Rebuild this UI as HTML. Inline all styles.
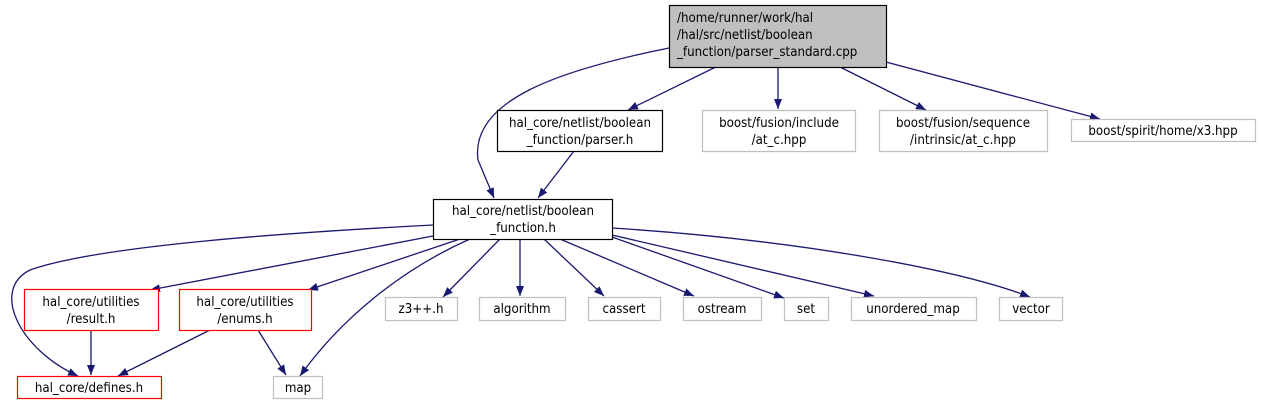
<!DOCTYPE html>
<html><head><meta charset="utf-8"><style>html,body{margin:0;padding:0;background:#fff}svg{display:block}text{font-family:"DejaVu Sans Condensed","DejaVu Sans","Liberation Sans",sans-serif;font-size:13.2px;fill:#000}</style></head>
<body>
<svg width="1261" height="409" viewBox="0 0 1261 409" xmlns="http://www.w3.org/2000/svg">
<defs><marker id="a" viewBox="0 0 10 10" refX="10" refY="5" markerWidth="10" markerHeight="10" markerUnits="userSpaceOnUse" orient="auto"><path d="M0,1 L10,5 L0,9 Z" fill="#191970"/></marker></defs>
<g fill="none" stroke="#191970" stroke-width="1.3" marker-end="url(#a)">
<path d="M669,48 C560,70 470,100 478,160 L494,198"/>
<path d="M726,62 L628,110"/>
<path d="M778,62 L778,109"/>
<path d="M830,62 L926,110"/>
<path d="M886,62 L1100,119"/>
<path d="M574,151 L538,198"/>
<path d="M433,225 C300,232 100,245 30,270 C-10,290 20,350 78,376"/>
<path d="M433,236 L150,290"/>
<path d="M460,239 L308,290"/>
<path d="M470,239 C400,270 340,320 300,376"/>
<path d="M500,239 L443,297"/>
<path d="M520,239 L520,296"/>
<path d="M544,239 L604,296"/>
<path d="M560,239 L694,296"/>
<path d="M612,237 L784,298"/>
<path d="M612,235 L874,296"/>
<path d="M612,228 C800,240 960,270 1030,297"/>
<path d="M91,330 L91,375"/>
<path d="M210,330 L118,376"/>
<path d="M258,330 L286,375"/>
</g>
<g stroke-width="1.2">
<rect x="669.5" y="5.5" width="217" height="62" fill="#bfbfbf" stroke="#000"/>
<rect x="497.5" y="110.5" width="165" height="41" fill="#fff" stroke="#000"/>
<rect x="702.5" y="110.5" width="153" height="41" fill="#fff" stroke="#bfbfbf"/>
<rect x="879.5" y="110.5" width="168" height="41" fill="#fff" stroke="#bfbfbf"/>
<rect x="1071.5" y="119.5" width="184" height="22" fill="#fff" stroke="#bfbfbf"/>
<rect x="433.5" y="199.5" width="179" height="40" fill="#fff" stroke="#000"/>
<rect x="24.5" y="289.5" width="134" height="41" fill="#fff" stroke="#ff0000"/>
<rect x="179.5" y="289.5" width="132" height="41" fill="#fff" stroke="#ff0000"/>
<rect x="385.5" y="297.5" width="72" height="23" fill="#fff" stroke="#bfbfbf"/>
<rect x="479.5" y="297.5" width="86" height="23" fill="#fff" stroke="#bfbfbf"/>
<rect x="588.5" y="297.5" width="72" height="23" fill="#fff" stroke="#bfbfbf"/>
<rect x="683.5" y="297.5" width="78" height="23" fill="#fff" stroke="#bfbfbf"/>
<rect x="784.5" y="297.5" width="44" height="23" fill="#fff" stroke="#bfbfbf"/>
<rect x="851.5" y="297.5" width="125" height="23" fill="#fff" stroke="#bfbfbf"/>
<rect x="999.5" y="297.5" width="63" height="23" fill="#fff" stroke="#bfbfbf"/>
<rect x="17.5" y="376.5" width="144" height="22" fill="#fff" stroke="#ff0000"/>
<rect x="273.5" y="376.5" width="49" height="22" fill="#fff" stroke="#bfbfbf"/>
</g>
<g>
<text x="677" y="22">/home/runner/work/hal</text>
<text x="677" y="39">/hal/src/netlist/boolean</text>
<text x="677" y="56">_function/parser_standard.cpp</text>
<g text-anchor="middle">
<text x="580" y="127">hal_core/netlist/boolean</text>
<text x="580" y="144">_function/parser.h</text>
<text x="779" y="127">boost/fusion/include</text>
<text x="779" y="144">/at_c.hpp</text>
<text x="963" y="127">boost/fusion/sequence</text>
<text x="963" y="144">/intrinsic/at_c.hpp</text>
<text x="1163" y="135">boost/spirit/home/x3.hpp</text>
<text x="523" y="215">hal_core/netlist/boolean</text>
<text x="523" y="232">_function.h</text>
<text x="91" y="306">hal_core/utilities</text>
<text x="91" y="323">/result.h</text>
<text x="245" y="306">hal_core/utilities</text>
<text x="245" y="323">/enums.h</text>
<text x="421" y="313">z3++.h</text>
<text x="522" y="313">algorithm</text>
<text x="624" y="313">cassert</text>
<text x="722" y="313">ostream</text>
<text x="806" y="313">set</text>
<text x="913" y="313">unordered_map</text>
<text x="1031" y="313">vector</text>
<text x="89" y="392">hal_core/defines.h</text>
<text x="298" y="392">map</text>
</g></g>
</svg>
</body></html>
